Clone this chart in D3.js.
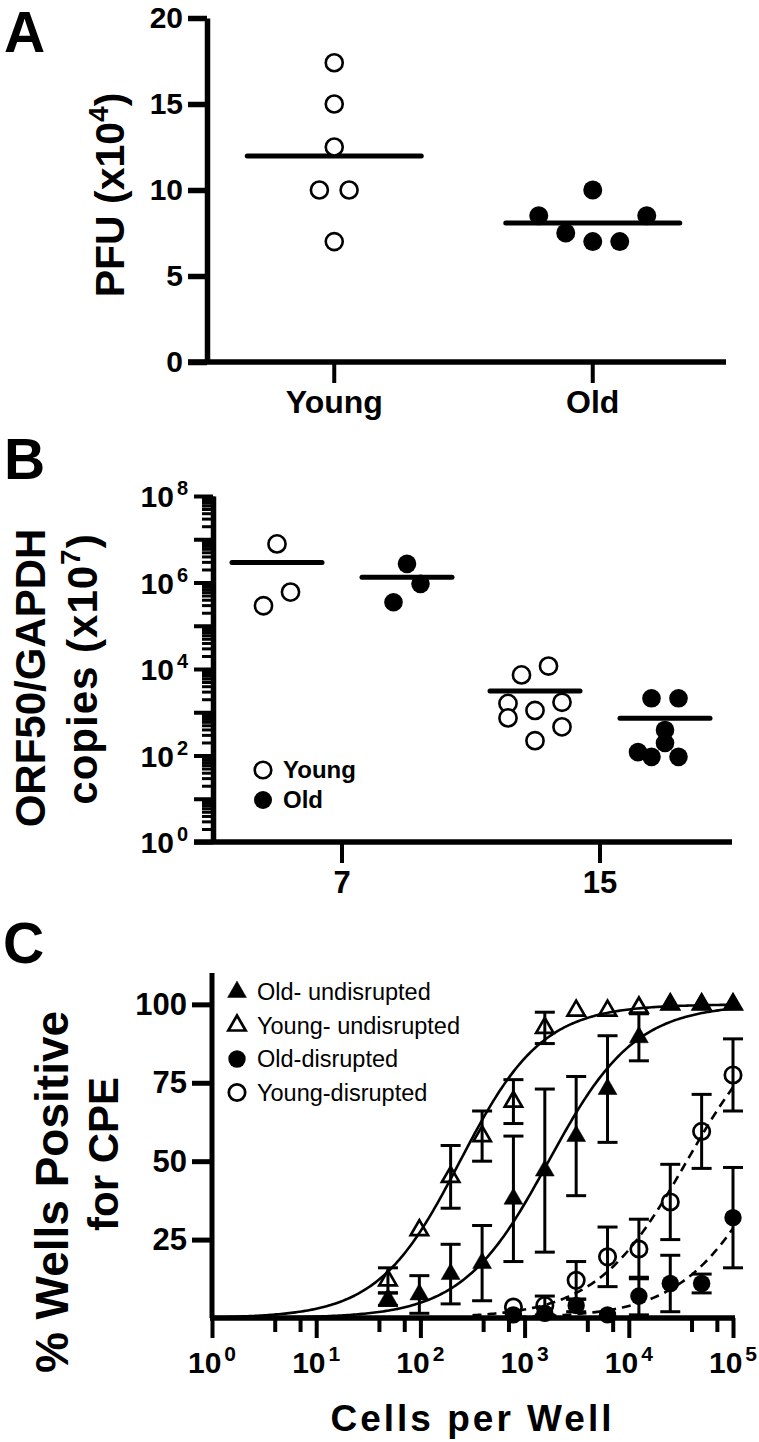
<!DOCTYPE html>
<html><head><meta charset="utf-8">
<script src="https://cdn.jsdelivr.net/npm/d3@7"></script>
<style>
html,body{margin:0;padding:0;background:#fff;}
svg{display:block;}
text{font-family:"Liberation Sans",Arial,Helvetica,sans-serif;fill:#000;}
</style></head><body>
<svg id="chart" width="759" height="1442"></svg>
<script>
// ================= DATA =================
// Panel A
const groupsA = ["Young", "Old"];
const pfuYoung = [17.4, 15, 12.5, 10, 10, 7];
const pfuOld = [10, 8.5, 8.5, 7.5, 7, 7];
const ticksA = [0, 5, 10, 15, 20];
// horizontal dodge slots (scatter spread, in slot units)
const slotYoungA = [0, 0, 0, -1.1, 1.1, 0];
const slotOldA = [0, -4, 4, -2, 0, 2];

// Panel B
const daysB = ["7", "15"];
const agesB = ["Young", "Old"];
const orfYoung7 = [7.8e6, 2.9e5, 6.0e5];
const orfOld7 = [2.7e6, 9.3e5, 3.5e5];
const orfYoung15 = [7.3e3, 1.17e4, 1.6e3, 1.7e3, 1.1e3, 7.4e2, 4.6e2, 2.2e2];
const orfOld15 = [2.1e3, 2.1e3, 3.9e2, 1.95e2, 1.2e2, 93, 93];
const slotYoung7 = [0, -1, 1];
const slotOld7 = [0, 1, -1];
const slotYoung15 = [-1, 1, -2, 2, 0, -2, 2, 0];
const slotOld15 = [-1, 1, 0, 0, -2, -1, 1];
const ticksBLabels = [1, 1e2, 1e4, 1e6, 1e8];

// Panel C
const cellsPerWell = [48.8, 97.7, 195, 391, 781, 1563, 3125, 6250, 12500, 25000, 50000, 100000];
const oldUndisMean  = [6, 7.5, 14, 17.5, 38, 47, 58, 73, 89.5, 100, 100, 100];
const oldUndisErr   = [2, 6, 9.5, 12, 20, 26, 19, 17, 7.5, 0, 0, 0];
const youngUndisMean = [12, 28, 45, 58, 69, 92.5, 98, 98, 99, 100, 100, 100];
const youngUndisErr  = [4, 0, 10, 8, 7, 5, 0, 0, 0, 0, 0, 0];
const oldDisMean   = [null, null, null, null, 1, 1.5, 4, 1, 7, 11, 11, 32];
const oldDisErr    = [0, 0, 0, 0, 0, 0, 2, 0, 6, 9, 3, 16];
const youngDisMean = [null, null, null, null, 3.5, 4, 12, 19.5, 22, 37, 59.5, 77.5];
const youngDisErr  = [0, 0, 0, 0, 0, 3, 6, 9.5, 9.5, 12, 11.8, 11.5];
const seriesNamesC = ["Old- undisrupted", "Young- undisrupted", "Old-disrupted", "Young-disrupted"];
// sigmoidal fit parameters (log EC50 model, bottom 0, top 100)
const fitEC50 = [1700, 240, 250000, 36000];
const fitHill = [1.05, 1.1, 1.0, 1.0];
const ticksC = [25, 50, 75, 100];

// ================= DRAW =================
const svg = d3.select("#chart");
const BOLD = "bold";

function panelLabel(t, x, y) {
  svg.append("text").attr("x", x).attr("y", y).attr("font-size", 57)
    .attr("font-weight", BOLD).text(t);
}
panelLabel("A", 4, 52);
panelLabel("B", 4, 479);
panelLabel("C", 3, 963);

function styleAxis(g, sw, fs) {
  g.selectAll(".domain").attr("stroke", "#000").attr("stroke-width", sw);
  g.selectAll(".tick line").attr("stroke", "#000").attr("stroke-width", sw);
  g.selectAll(".tick text").attr("font-size", fs).attr("font-weight", BOLD)
    .attr("font-family", '"Liberation Sans", Arial, sans-serif').attr("fill", "#000");
}

// ---------- Panel A ----------
const A = { left: 207, right: 726, top: 18, bottom: 362 };
const yA = d3.scaleLinear().domain([0, 20]).range([A.bottom, A.top]);
const xA = d3.scalePoint().domain(groupsA).range([205, 722]).padding(0.5);
const gA = svg.append("g");

const axYA = gA.append("g").attr("transform", `translate(${A.left},0)`)
  .call(d3.axisLeft(yA).tickValues(ticksA).tickSize(19).tickSizeOuter(0).tickPadding(5));
styleAxis(axYA, 5.5, 30);
gA.append("line").attr("x1", A.left - 19).attr("x2", A.right)
  .attr("y1", A.bottom).attr("y2", A.bottom).attr("stroke", "#000").attr("stroke-width", 5.5);
groupsA.forEach(g => {
  gA.append("line").attr("x1", xA(g)).attr("x2", xA(g)).attr("y1", A.bottom)
    .attr("y2", A.bottom + 21).attr("stroke", "#000").attr("stroke-width", 4);
  gA.append("text").attr("x", xA(g)).attr("y", A.bottom + 51).attr("text-anchor", "middle")
    .attr("font-size", 32).attr("font-weight", BOLD).text(g);
});
// title
const tA = gA.append("text").attr("transform", `translate(124,${(A.top + A.bottom) / 2 + 5}) rotate(-90)`)
  .attr("text-anchor", "middle").attr("font-size", 41).attr("font-weight", BOLD);
tA.append("tspan").text("PFU (x10");
tA.append("tspan").attr("font-size", 28).attr("dy", -16).text("4");
tA.append("tspan").attr("dy", 16).text(")");

const slotA = 13.5;
const meanHalfA = 87;
[[pfuYoung, slotYoungA, "Young", false], [pfuOld, slotOldA, "Old", true]].forEach(([vals, slots, grp, filled]) => {
  const cx = xA(grp);
  gA.append("line").attr("x1", cx - meanHalfA).attr("x2", cx + meanHalfA)
    .attr("y1", yA(d3.mean(vals))).attr("y2", yA(d3.mean(vals)))
    .attr("stroke", "#000").attr("stroke-width", 5).attr("stroke-linecap", "round");
  gA.selectAll(null).data(vals).join("circle")
    .attr("cx", (d, i) => cx + slots[i] * slotA).attr("cy", d => yA(d))
    .attr("r", filled ? 9.5 : 8.5)
    .attr("fill", filled ? "#000" : "#fff").attr("stroke", "#000").attr("stroke-width", filled ? 0 : 2.6);
});

// ---------- Panel B ----------
const B = { left: 213, right: 732, top: 496, bottom: 842 };
const yB = d3.scaleLog().domain([1, 1e8]).range([B.bottom, B.top]);
const xB = d3.scalePoint().domain(daysB).range([213, 729]).padding(0.5);
const subB = d3.scalePoint().domain(agesB).range([-65, 65]);
const gB = svg.append("g");

// minor ticks
const minorB = [];
for (let e = 0; e < 8; e++) for (let m = 2; m <= 9; m++) minorB.push(m * Math.pow(10, e));
const decB = d3.range(0, 9).map(e => Math.pow(10, e));
const axMinB = gB.append("g").attr("transform", `translate(${B.left},0)`)
  .call(d3.axisLeft(yB).tickValues(minorB).tickSize(11).tickSizeOuter(0).tickFormat(""));
styleAxis(axMinB, 3, 10);
const axDecB = gB.append("g").attr("transform", `translate(${B.left},0)`)
  .call(d3.axisLeft(yB).tickValues(decB).tickSize(19).tickSizeOuter(0).tickFormat(""));
styleAxis(axDecB, 4, 10);
axDecB.select(".domain").attr("stroke-width", 5.5);
ticksBLabels.forEach(v => {
  const t = gB.append("text").attr("x", 188).attr("y", yB(v) + 11).attr("text-anchor", "end")
    .attr("font-size", 30).attr("font-weight", BOLD);
  t.append("tspan").text("10");
  t.append("tspan").attr("font-size", 20).attr("dy", -12).attr("dx", 3).text(Math.round(Math.log10(v)));
});
gB.append("line").attr("x1", B.left - 19).attr("x2", B.right)
  .attr("y1", B.bottom).attr("y2", B.bottom).attr("stroke", "#000").attr("stroke-width", 5.5);
daysB.forEach(d => {
  gB.append("line").attr("x1", xB(d)).attr("x2", xB(d)).attr("y1", B.bottom)
    .attr("y2", B.bottom + 21).attr("stroke", "#000").attr("stroke-width", 4);
  gB.append("text").attr("x", xB(d)).attr("y", B.bottom + 51).attr("text-anchor", "middle")
    .attr("font-size", 31).attr("font-weight", BOLD).text(d);
});
// title
gB.append("text").attr("transform", `translate(45,678) rotate(-90)`)
  .attr("text-anchor", "middle").attr("font-size", 42).attr("font-weight", BOLD).text("ORF50/GAPDH");
const tB = gB.append("text").attr("transform", `translate(97,669) rotate(-90)`)
  .attr("text-anchor", "middle").attr("font-size", 42).attr("font-weight", BOLD).attr("letter-spacing", 1);
tB.append("tspan").text("copies (x10");
tB.append("tspan").attr("font-size", 28).attr("dy", -17).text("7");
tB.append("tspan").attr("dy", 17).text(")");

const slotB = 13.5;
const meanHalfB = 45;
[[orfYoung7, slotYoung7, "7", "Young"], [orfOld7, slotOld7, "7", "Old"],
 [orfYoung15, slotYoung15, "15", "Young"], [orfOld15, slotOld15, "15", "Old"]].forEach(([vals, slots, day, age]) => {
  const cx = xB(day) + subB(age);
  const filled = age === "Old";
  const m = d3.mean(vals);
  gB.append("line").attr("x1", cx - meanHalfB).attr("x2", cx + meanHalfB)
    .attr("y1", yB(m)).attr("y2", yB(m))
    .attr("stroke", "#000").attr("stroke-width", 5).attr("stroke-linecap", "round");
  gB.selectAll(null).data(vals).join("circle")
    .attr("cx", (d, i) => cx + slots[i] * slotB).attr("cy", d => yB(d))
    .attr("r", filled ? 9.3 : 8.6)
    .attr("fill", filled ? "#000" : "#fff").attr("stroke", "#000").attr("stroke-width", filled ? 0 : 2.6);
});
// legend B
agesB.forEach((a, i) => {
  const y = 770 + i * 30;
  gB.append("circle").attr("cx", 263).attr("cy", y).attr("r", a === "Old" ? 9 : 8.3)
    .attr("fill", a === "Old" ? "#000" : "#fff").attr("stroke", "#000").attr("stroke-width", a === "Old" ? 0 : 2.6);
  gB.append("text").attr("x", 283).attr("y", y + 8).attr("font-size", 24).attr("font-weight", BOLD).text(a);
});

// ---------- Panel C ----------
const C = { left: 212, right: 733, top: 973, bottom: 1318 };
const xC = d3.scaleLog().domain([1, 1e5]).range([C.left, C.right]);
const yC = d3.scaleLinear().domain([0, 110]).range([C.bottom, C.top]);
const gC = svg.append("g");

const axYC = gC.append("g").attr("transform", `translate(${C.left},0)`)
  .call(d3.axisLeft(yC).tickValues(ticksC).tickSize(20).tickSizeOuter(0).tickPadding(5));
styleAxis(axYC, 5, 31);
axYC.select(".domain").attr("d", `M0,${C.bottom}V${C.top}`);

const decC = d3.range(0, 6).map(e => Math.pow(10, e));
const minorC = [];
for (let e = 0; e < 5; e++) [4, 7].forEach(m => minorC.push(m * Math.pow(10, e)));
const axMinC = gC.append("g").attr("transform", `translate(0,${C.bottom})`)
  .call(d3.axisBottom(xC).tickValues(minorC).tickSize(14).tickSizeOuter(0).tickFormat(""));
styleAxis(axMinC, 4, 10);
axMinC.select(".domain").remove();
const axDecC = gC.append("g").attr("transform", `translate(0,${C.bottom})`)
  .call(d3.axisBottom(xC).tickValues(decC).tickSize(20).tickSizeOuter(0).tickFormat(""));
styleAxis(axDecC, 4, 10);
axDecC.select(".domain").attr("stroke-width", 5.5).attr("d", `M${C.left - 2},0H${C.right + 2}`);
decC.forEach(v => {
  const t = gC.append("text").attr("x", xC(v)).attr("y", C.bottom + 55).attr("text-anchor", "middle")
    .attr("font-size", 30).attr("font-weight", BOLD);
  t.append("tspan").text("10");
  t.append("tspan").attr("font-size", 21).attr("dy", -12).attr("dx", 3).text(Math.round(Math.log10(v)));
});
gC.append("text").attr("x", (C.left + C.right) / 2).attr("y", 1431).attr("text-anchor", "middle")
  .attr("font-size", 37).attr("font-weight", BOLD).attr("letter-spacing", 3).text("Cells per Well");
gC.append("text").attr("transform", `translate(68,1192) rotate(-90)`)
  .attr("text-anchor", "middle").attr("font-size", 46).attr("font-weight", BOLD).text("% Wells Positive");
gC.append("text").attr("transform", `translate(118,1154) rotate(-90)`)
  .attr("text-anchor", "middle").attr("font-size", 42).attr("font-weight", BOLD).text("for CPE");

const seriesC = [
  { name: seriesNamesC[0], mean: oldUndisMean, err: oldUndisErr, shape: "tri", filled: true, dashed: false },
  { name: seriesNamesC[1], mean: youngUndisMean, err: youngUndisErr, shape: "tri", filled: false, dashed: false },
  { name: seriesNamesC[2], mean: oldDisMean, err: oldDisErr, shape: "circ", filled: true, dashed: true },
  { name: seriesNamesC[3], mean: youngDisMean, err: youngDisErr, shape: "circ", filled: false, dashed: true }
];
// fit curves
const line = d3.line().x(d => xC(d[0])).y(d => yC(d[1]));
seriesC.forEach((s, i) => {
  const start = s.dashed ? 2.5 : 0;
  const pts = d3.range(start, 5.0001, 0.02).map(l => {
    const x = Math.pow(10, l);
    return [x, 100 / (1 + Math.pow(fitEC50[i] / x, fitHill[i]))];
  });
  gC.append("path").attr("d", line(pts)).attr("fill", "none").attr("stroke", "#000")
    .attr("stroke-width", 2.6).attr("stroke-dasharray", s.dashed ? "9,6" : null);
});
// error bars
const capW = 10;
seriesC.forEach(s => {
  cellsPerWell.forEach((x, j) => {
    const m = s.mean[j], e = s.err[j];
    if (m == null || !e) return;
    const cx = xC(x);
    const g = gC.append("g").attr("stroke", "#000").attr("stroke-width", 3);
    g.append("line").attr("x1", cx).attr("x2", cx).attr("y1", yC(m - e)).attr("y2", yC(m + e));
    [m - e, m + e].forEach(v => g.append("line").attr("x1", cx - capW).attr("x2", cx + capW)
      .attr("y1", yC(v)).attr("y2", yC(v)));
  });
});
// markers
const triSym = d3.symbol().type(d3.symbolTriangle);
function marker(g, s, cx, cy) {
  if (s.shape === "tri") {
    g.append("path").attr("d", triSym.size(s.filled ? 155 : 130)())
      .attr("transform", `translate(${cx},${cy})`)
      .attr("fill", s.filled ? "#000" : "none").attr("stroke", "#000").attr("stroke-width", s.filled ? 0.5 : 2.7);
  } else {
    g.append("circle").attr("cx", cx).attr("cy", cy).attr("r", s.filled ? 8.7 : 8.2)
      .attr("fill", s.filled ? "#000" : "none").attr("stroke", "#000").attr("stroke-width", s.filled ? 0 : 2.7);
  }
}
[seriesC[1], seriesC[0], seriesC[3], seriesC[2]].forEach(s => {
  cellsPerWell.forEach((x, j) => {
    const m = s.mean[j];
    if (m == null) return;
    marker(gC, s, xC(x), yC(m));
  });
});
// legend C
seriesC.forEach((s, i) => {
  const y = 992 + i * 33.5;
  marker(gC, s, 237, y);
  gC.append("text").attr("x", 257).attr("y", y + 8).attr("font-size", 23.5).text(s.name);
});
</script>
</body></html>
